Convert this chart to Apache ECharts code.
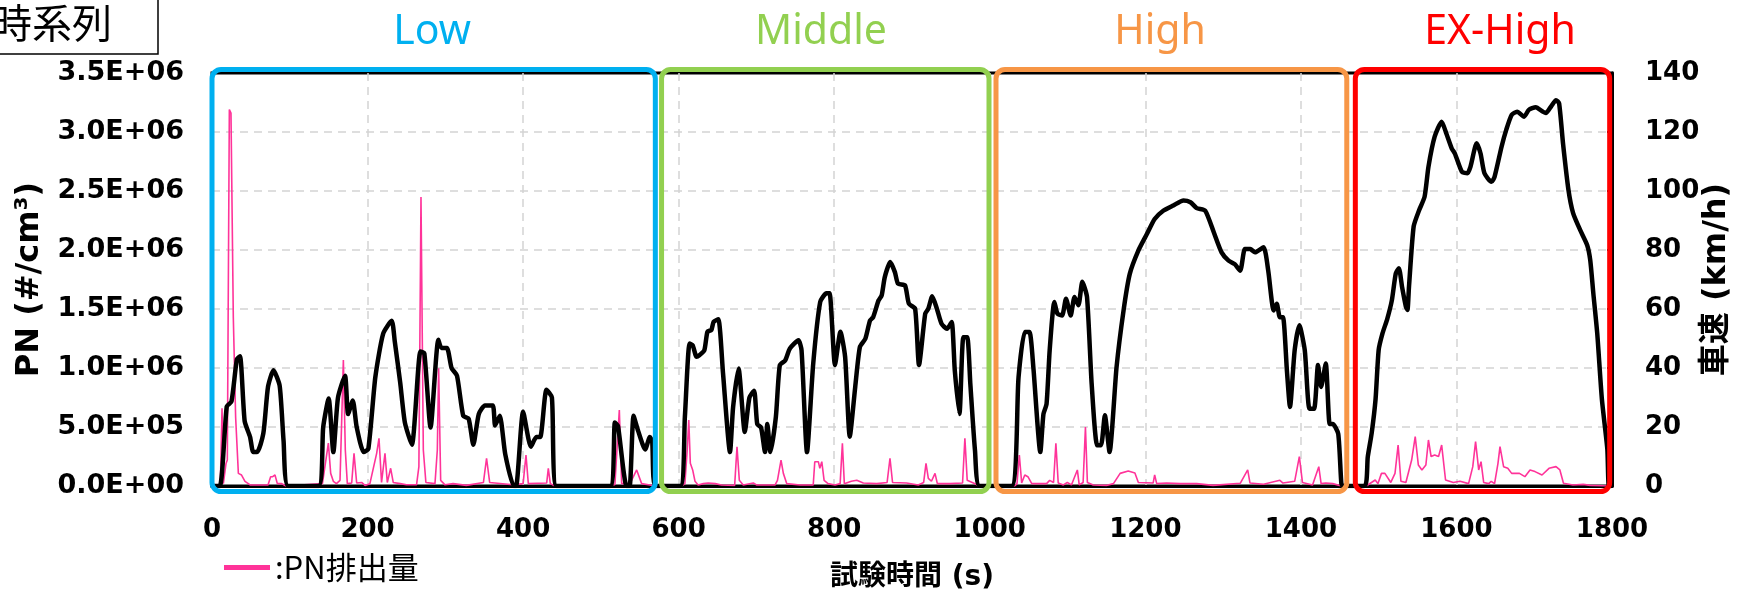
<!DOCTYPE html>
<html>
<head>
<meta charset="utf-8">
<script src="https://cdn.jsdelivr.net/npm/echarts@6/dist/echarts.min.js"></script>
<style>
html,body{margin:0;padding:0;background:#fff;}
#main{width:1737px;height:589px;}
</style>
</head>
<body>
<div id="main"></div>
<script>
// ---- data ----
const phaseNames = ['Low', 'Middle', 'High', 'EX-High'];
const phaseColors = ['#00B0F0', '#92D050', '#F79646', '#FF0000'];
const phaseStart = [0, 578, 1008, 1470];
const phaseEnd = [570, 999, 1459, 1797];
const phaseLabelAt = [283, 783, 1219, 1656];

const xTicks = [0, 200, 400, 600, 800, 1000, 1200, 1400, 1600, 1800];

// vehicle speed [time s, km/h]
const speedPoints = [
  [0,0],[10,0],[19,27],[25,28.6],[32,43],[36,44],[42,22],[49,16.6],[53,11.5],[58,11.5],[66,17.8],[72,33.6],[79,39.2],[87,34],[92,15.4],[98,0],
  [137,0],[143,20],[150,29.7],[156,11.5],[162,30],[171,37.4],[175,24.4],[181,29],[186,20],[195,11.5],[201,12.6],[210,36.9],[220,51.6],[231,56],[235,49],[242,35],[248,21.5],[257,14],[268,45.6],[273,45],[281,19.8],[291,49.6],[295,46.8],[302,46.8],[308,40],[315,37.4],[323,23.8],[330,22.8],[336,14],[343,24.4],[351,27.3],[361,27.3],[364,20.5],[370,23.8],[377,10.8],[388,0],
  [391,0],[400,25.2],[410,13.3],[417,16.6],[422,16.6],[430,32.6],[437,30],[443,0],
  [512,0],[518,21.5],[522,20.3],[533,0],[537,0],[542,23.8],[548,18.6],[557,12.4],[563,16.6],[566,15],[570,0],
  [602,0],[608,23.5],[614,48.3],[618,47.7],[623,43.8],[627,44.4],[633,46],[637,52.3],[642,52.9],[645,55.7],[651,56.5],[657,38.3],[666,11.5],[670,26.8],[677,39.8],[685,18.3],[691,30],[697,32.3],[701,21],[706,19.8],[711,11.5],[714,21],[718,11.5],[725,23.5],[730,40.9],[737,42.6],[743,46.6],[754,49.4],[758,46],[765,11.5],[773,41.5],[782,62.4],[790,65.3],[794,65.3],[801,41],[808,52.3],[814,43.8],[820,16.7],[827,33.6],[833,47.1],[840,49.9],[846,56.1],[850,57.2],[857,62.9],[861,64.6],[865,70.8],[872,75.9],[878,72.5],[882,68.6],[891,68],[896,61.8],[904,60.1],[909,41],[917,58.4],[921,60.1],[926,64.3],[932,60.1],[938,55],[945,53.3],[951,55.6],[955,39.2],[961,24.4],[966,50.4],[971,50.4],[975,34.6],[981,12],[987,0],
  [1028,0],[1037,36.9],[1045,52.2],[1051,52.2],[1056,40.3],[1065,11.5],[1069,24.4],[1073,27.8],[1077,46],[1083,62.4],[1087,58.4],[1093,57.8],[1098,63.5],[1104,57.8],[1109,64.1],[1114,61.3],[1119,69.2],[1125,64.1],[1131,34.6],[1138,13.8],[1143,13.8],[1148,24],[1154,11.5],[1163,40.3],[1172,59.5],[1180,71.9],[1191,79.8],[1202,85.4],[1212,90.5],[1223,93.3],[1236,95.1],[1249,96.8],[1258,96.2],[1266,94.2],[1277,93.3],[1288,86],[1298,79.2],[1307,76.4],[1315,75.2],[1322,73],[1328,80.3],[1335,80.3],[1341,79.2],[1352,80.9],[1358,73],[1365,59.5],[1369,61.8],[1373,57.2],[1377,57.2],[1382,39.2],[1386,26.8],[1392,46],[1398,54.5],[1405,46],[1411,26.2],[1417,26.2],[1422,41],[1426,33.6],[1432,41.5],[1437,21],[1441,21],[1448,17.7],[1452,0.9],[1454,0],
  [1482,0],[1486,9.9],[1491,17.9],[1496,29.4],[1500,46.1],[1505,51.8],[1511,56.6],[1517,63],[1522,72],[1526,73.8],[1530,67.6],[1535,60.8],[1537,59.7],[1539,67.6],[1545,88],[1552,93.5],[1559,98],[1564,108.2],[1572,118.4],[1581,123.5],[1587,119.5],[1594,114.4],[1598,112.7],[1607,106.5],[1614,106],[1618,108.2],[1626,116.2],[1631,112.7],[1636,106],[1645,103.1],[1649,104.8],[1658,115],[1664,120.7],[1671,125.8],[1678,126.9],[1687,125.2],[1693,127.5],[1702,128.4],[1711,126.9],[1715,126.4],[1722,128.8],[1728,130.8],[1732,129.7],[1737,116.2],[1744,100.4],[1750,92.5],[1759,86.8],[1768,81.7],[1772,76.6],[1776,65.3],[1781,51.8],[1787,29.4],[1794,12.5],[1796,0],[1800,0]
];

// PN emission [time s, #/cm3]
const pnPoints = [
  [0,0],[10.7,0],[12.9,658000],[14.6,20000],[18,190000],[19.7,220000],[22.3,3190000],[24.4,3160000],[27.4,1430000],[30.4,580000],[33.9,107000],[38,93000],[42.4,40000],[49,9000],[72,9000],[75.4,79000],[78,79000],[81,93000],[84,20000],[89.6,20000],[95,0],
  [142,20000],[149.6,364000],[152.6,107000],[156,40000],[160,20000],[164.6,48000],[168.9,1068000],[171.4,305000],[174,20000],[179.6,25000],[182.6,277000],[186,25000],[192.4,30000],[196.7,5000],[203,20000],[211.7,277000],[214.7,404000],[218,30000],[222.4,277000],[225.4,30000],[229.7,150000],[233,30000],[242,20000],[250,10000],[263,10000],[266,164000],[268.7,2450000],[271.7,305000],[275,30000],[286.7,20000],[289.7,305000],[291.4,997000],[294,48000],[299.6,10000],[310,20000],[327,5000],[349,30000],[353,235000],[357,30000],[387,10000],[400,20000],[403.7,263000],[406.7,20000],[430.3,25000],[432.4,150000],[435,20000],[441,0],
  [518,10000],[523.7,644000],[526.7,20000],[537.4,20000],[546,136000],[552.4,20000],[561,10000],[570,0],
  [603.8,0],[608,20000],[611,305000],[613,559000],[615,192000],[618,136000],[621,40000],[625,9000],[631.7,20000],[638,25000],[647,20000],[655,9000],[672,5000],[675,333000],[678,48000],[683,9000],[696,25000],[700,9000],[724,9000],[727,48000],[731.6,220000],[734.6,107000],[739,20000],[756,9000],[773,9000],[775,206000],[779.6,206000],[781.5,150000],[784,206000],[787,48000],[792,20000],[801,9000],[807.6,20000],[810.5,362000],[813,20000],[822,40000],[829,48000],[837.4,25000],[854.6,20000],[868,30000],[871.7,235000],[875,30000],[893,25000],[908,9000],[915,30000],[918,192000],[921,65000],[925,40000],[929.6,107000],[932.6,20000],[948.7,20000],[965,25000],[968,404000],[971,48000],[981,20000],[985.4,0],
  [1032,0],[1035,20000],[1038,263000],[1041,25000],[1045,93000],[1049,79000],[1054,20000],[1073,20000],[1077,48000],[1082,30000],[1085,362000],[1088,25000],[1094.6,9000],[1099.7,30000],[1105,9000],[1112.6,136000],[1115,9000],[1120,30000],[1123,500000],[1125.5,30000],[1133,9000],[1150,5000],[1159,20000],[1167.6,107000],[1178,127000],[1186.6,110000],[1191,30000],[1210,25000],[1212,93000],[1214.6,20000],[1227.4,25000],[1244.6,20000],[1266,20000],[1287,5000],[1322,23000],[1331.6,136000],[1334.6,25000],[1352,15000],[1373,48000],[1377,25000],[1392,40000],[1398,249000],[1402,30000],[1415,9000],[1423,164000],[1426,20000],[1432,25000],[1441,20000],[1452,0],
  [1484,0],[1495.6,51000],[1499,20000],[1503.6,107000],[1508,107000],[1515.6,30000],[1521,107000],[1525,347000],[1528.6,40000],[1535,30000],[1542.4,220000],[1547,418000],[1551,178000],[1555.6,136000],[1560.7,178000],[1564,390000],[1567.4,250000],[1572,263000],[1577,250000],[1581,347000],[1586,51000],[1596,30000],[1604.6,40000],[1615.6,20000],[1621,164000],[1624.6,376000],[1628.6,136000],[1631.6,206000],[1635,30000],[1641.6,20000],[1644.7,40000],[1649,20000],[1653.4,192000],[1656,333000],[1660.6,164000],[1666,150000],[1671,107000],[1681,107000],[1688,79000],[1694.6,136000],[1701,122000],[1710,93000],[1719,150000],[1728,164000],[1733,136000],[1737.6,23000],[1750,9000],[1763,14000],[1772,5000],[1794,0],[1800,0]
];

// ---- chart ----
function sciLabel(v) {
  const s = Number(v).toExponential(1).split('e');
  const e = parseInt(s[1], 10);
  const sign = e < 0 ? '-' : '+';
  const ae = Math.abs(e);
  return s[0] + 'E' + sign + (ae < 10 ? '0' + ae : '' + ae);
}

const chart = echarts.init(document.getElementById('main'), null, {renderer: 'canvas'});
const tickFont = {fontFamily: 'DejaVu Sans', fontWeight: 'bold', fontSize: 26, color: '#000'};
const splitStyle = {show: true, showMinLine: false, showMaxLine: false, lineStyle: {color: '#d4d4d4', width: 1.5, type: [8, 6]}};

chart.setOption({
  animation: false,
  backgroundColor: '#fff',
  grid: {left: 212, right: 125, top: 73, bottom: 103, outerBoundsMode: 'none', containLabel: false,
         show: true, borderColor: '#000', borderWidth: 3},
  legend: {
    data: [{name: 'PN排出量', icon: 'rect'}],
    left: 219, top: 547,
    itemWidth: 46, itemHeight: 5, itemGap: 5,
    formatter: ':PN排出量',
    textStyle: {fontFamily: 'Noto Sans CJK JP', fontSize: 31, color: '#000'}
  },
  xAxis: {
    type: 'value', min: 0, max: 1800, interval: 200,
    name: '試験時間 (s)', nameLocation: 'middle', nameGap: 78, nameMoveOverlap: false,
    nameTextStyle: {fontFamily: 'DejaVu Sans, Noto Sans CJK JP', fontWeight: 'bold', fontSize: 28, color: '#000'},
    axisLine: {onZero: false, lineStyle: {color: '#000', width: 3}},
    axisTick: {show: false},
    axisLabel: Object.assign({margin: 31, formatter: v => xTicks.indexOf(v) >= 0 ? String(v) : ''}, tickFont),
    splitLine: splitStyle
  },
  yAxis: [
    {
      type: 'value', min: 0, max: 3500000, interval: 500000, position: 'left',
      name: 'PN (#/cm³)', nameLocation: 'middle', nameGap: 166, nameRotate: 90, nameMoveOverlap: false,
      nameTextStyle: {fontFamily: 'DejaVu Sans', fontWeight: 'bold', fontSize: 32, color: '#000'},
      axisLine: {show: true, lineStyle: {color: '#000', width: 3}},
      axisTick: {show: false},
      axisLabel: Object.assign({margin: 28, formatter: sciLabel}, tickFont, {fontSize: 27}),
      splitLine: splitStyle
    },
    {
      type: 'value', min: 0, max: 140, interval: 20, position: 'right',
      name: '車速 (km/h)', nameLocation: 'middle', nameGap: 89, nameRotate: 90, nameMoveOverlap: false,
      nameTextStyle: {fontFamily: 'DejaVu Sans, Noto Sans CJK JP', fontWeight: 'bold', fontSize: 32, color: '#000'},
      axisLine: {show: true, lineStyle: {color: '#000', width: 3}},
      axisTick: {show: true, inside: true, length: 5, lineStyle: {color: '#000', width: 2}},
      axisLabel: Object.assign({margin: 33, align: 'left'}, tickFont),
      splitLine: {show: false}
    }
  ],
  series: [
    {
      name: 'PN排出量', type: 'line', yAxisIndex: 0, data: pnPoints,
      showSymbol: false, symbol: 'none', z: 2,
      lineStyle: {color: '#FF3399', width: 1.6}, itemStyle: {color: '#FF3399'}
    },
    {
      name: '車速', type: 'line', yAxisIndex: 1, data: speedPoints,
      showSymbol: false, symbol: 'none', smooth: 0.2, z: 3,
      lineStyle: {color: '#000', width: 4.5}, itemStyle: {color: '#000'}
    }
  ]
});

// phase boxes and labels, positioned through the axis scale
const gridRect = chart.getModel().getComponent('grid').coordinateSystem.getRect();
const graphics = [];
for (let i = 0; i < phaseNames.length; i++) {
  const x0 = chart.convertToPixel({xAxisIndex: 0}, phaseStart[i]);
  const x1 = chart.convertToPixel({xAxisIndex: 0}, phaseEnd[i]);
  const xl = chart.convertToPixel({xAxisIndex: 0}, phaseLabelAt[i]);
  const yTop = gridRect.y - 3.5;
  const yBot = gridRect.y + gridRect.height + 5.5;
  graphics.push({
    type: 'rect', z: 50,
    shape: {x: x0, y: yTop, width: x1 - x0, height: yBot - yTop, r: 9},
    style: {fill: null, stroke: phaseColors[i], lineWidth: 5}
  });
  graphics.push({
    type: 'text', z: 50, x: xl, y: 32,
    style: {text: phaseNames[i], fill: phaseColors[i], font: '41px "Noto Sans"', textAlign: 'center', textVerticalAlign: 'middle'}
  });
}
// title box (partly outside canvas at top-left)
graphics.push({
  type: 'rect', z: 60,
  shape: {x: -10, y: -10, width: 168, height: 64},
  style: {fill: '#fff', stroke: '#000', lineWidth: 1.5}
});
graphics.push({
  type: 'text', z: 61, x: -8, y: 23,
  style: {text: '時系列', fill: '#000', font: '40px "Noto Sans CJK JP"', textAlign: 'left', textVerticalAlign: 'middle'}
});
chart.setOption({graphic: graphics});
</script>
</body>
</html>
